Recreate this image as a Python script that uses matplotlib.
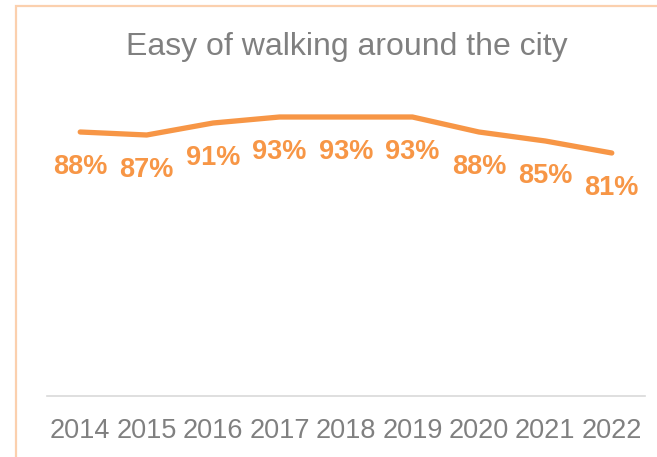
import matplotlib
matplotlib.use("Agg")
import matplotlib.pyplot as plt
from matplotlib.patches import Rectangle

years = ["2014", "2015", "2016", "2017", "2018", "2019", "2020", "2021", "2022"]
share = [88, 87, 91, 93, 93, 93, 88, 85, 81]

orange = "#F79646"
grey = "#808080"

plt.rcParams["font.family"] = ["Liberation Sans", "DejaVu Sans"]

W, H = 657, 457
fig = plt.figure(figsize=(W / 100, H / 100), dpi=100)
ax = fig.add_axes([47 / W, 1 - 396 / H, (645 - 47) / W, (396 - 96) / H])

x = list(range(len(years)))
ax.plot(x, share, color=orange, lw=3.8, solid_capstyle="round", solid_joinstyle="round")

for xi, v in zip(x, share):
    ax.annotate(f"{v}%", (xi, v), xytext=(0, -35), textcoords="offset pixels",
                ha="center", va="center", fontsize=19.5, fontweight="bold", color=orange)

ax.set_xlim(-0.5, len(years) - 0.5)
ax.set_ylim(0, 100)
ax.set_xticks(x)
ax.set_xticklabels(years, fontsize=19.5, color=grey)
ax.tick_params(axis="x", length=0, pad=16)
ax.set_yticks([])
for side in ["top", "right", "left"]:
    ax.spines[side].set_visible(False)
ax.spines["bottom"].set_color("#D9D9D9")
ax.spines["bottom"].set_linewidth(1.2)

fig.text(347 / W, 1 - 47 / H, "Easy of walking around the city", ha="center", va="center",
         fontsize=23, color=grey)

# light orange frame, only top and left edges are visible in the crop
fig.patches.append(Rectangle((16 / W, -0.1), 1.2, 1 - 6 / H + 0.1, transform=fig.transFigure,
                             fill=False, edgecolor="#FBD0AE", lw=1.6))

plt.savefig("out.png", dpi=100)
plt.close(fig)
